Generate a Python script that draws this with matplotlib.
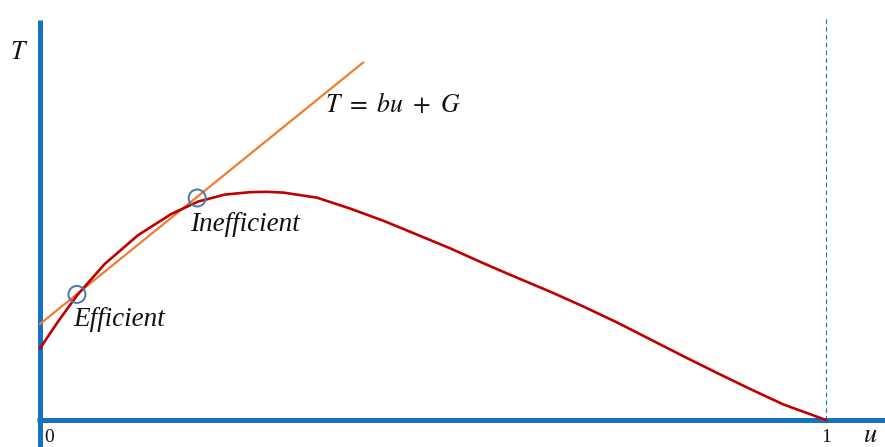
import matplotlib
matplotlib.use("Agg")
import matplotlib.pyplot as plt

# Red curve T(u)
u_curve = [0.0, 0.0229, 0.0475, 0.0823, 0.1247, 0.167, 0.201, 0.235, 0.267, 0.288,
           0.3095, 0.352, 0.394, 0.437, 0.479, 0.522, 0.564, 0.6065, 0.649, 0.691,
           0.734, 0.776, 0.818, 0.861, 0.903, 0.9457, 1.0]
T_curve = [0.179, 0.246, 0.3125, 0.390, 0.462, 0.515, 0.546, 0.5635, 0.5695, 0.5705,
           0.5685, 0.556, 0.529, 0.498, 0.464, 0.429, 0.392, 0.356, 0.321, 0.284,
           0.244, 0.202, 0.160, 0.118, 0.078, 0.039, 0.0]

# Straight line T = b u + G
G = 0.24
b = 1.59
u_line = [0.0, 0.411]

# Intersection points
u_pts = [0.047, 0.200]
T_pts = [0.314, 0.555]
pt_labels = ["Efficient", "Inefficient"]

tick_vals = [0, 1]
tick_labels = ["0", "1"]

W, H = 885, 447
fig = plt.figure(figsize=(W / 100, H / 100), dpi=100)
ax = fig.add_axes([0, 0, 1, 1])
ax.set_xlim(-40 / 786, 845 / 786)
ax.set_ylim(-27 / 400, 420 / 400)
ax.axis("off")

blue = "#1472BE"
red = "#C00000"
orange = "#ED7D31"

# axes lines
ax.plot([0, 0], [-27 / 400, 1.0], color=blue, lw=3.6, solid_capstyle="butt", zorder=1)
ax.plot([-3 / 786, 845 / 786], [0, 0], color=blue, lw=3.6, solid_capstyle="butt", zorder=1)
ax.plot([1, 1], [0, 1.01], color=blue, lw=0.8, ls=(0, (4, 3)), zorder=1)

# curves
ax.plot(u_curve, T_curve, color=red, lw=1.9, zorder=3, solid_joinstyle="round")
ax.plot(u_line, [G + b * x for x in u_line], color=orange, lw=1.6, zorder=2)

ax.scatter(u_pts, T_pts, s=150, facecolors="none", edgecolors="#4A76A8", linewidths=1.4, zorder=4)

font = dict(family="Liberation Serif", style="italic", fontsize=19.5, color="#111111")
ax.text(0.042, 0.25, pt_labels[0], ha="left", va="center", **font)
ax.text(0.191, 0.49, pt_labels[1], ha="left", va="center", **font)

plt.rcParams["mathtext.fontset"] = "stix"
ax.text(0.3626, 0.7875, r"$T\ =\ bu\ +\ G$", ha="left", va="center", fontsize=18.5, color="#111111")
ax.text(-21 / 786, 0.92, r"$T$", ha="center", va="center", fontsize=18.5, color="#111111")
ax.text(823 / 786, -15 / 400, r"$u$", ha="left", va="center", fontsize=19, color="#111111")

for v, lab in zip(tick_vals, tick_labels):
    ax.text(v + (9 / 786 if v == 0 else 0), -17 / 400, lab, ha="center", va="center",
            fontsize=14, family="Liberation Serif", color="#111111")

fig.savefig("out.png", dpi=100)
